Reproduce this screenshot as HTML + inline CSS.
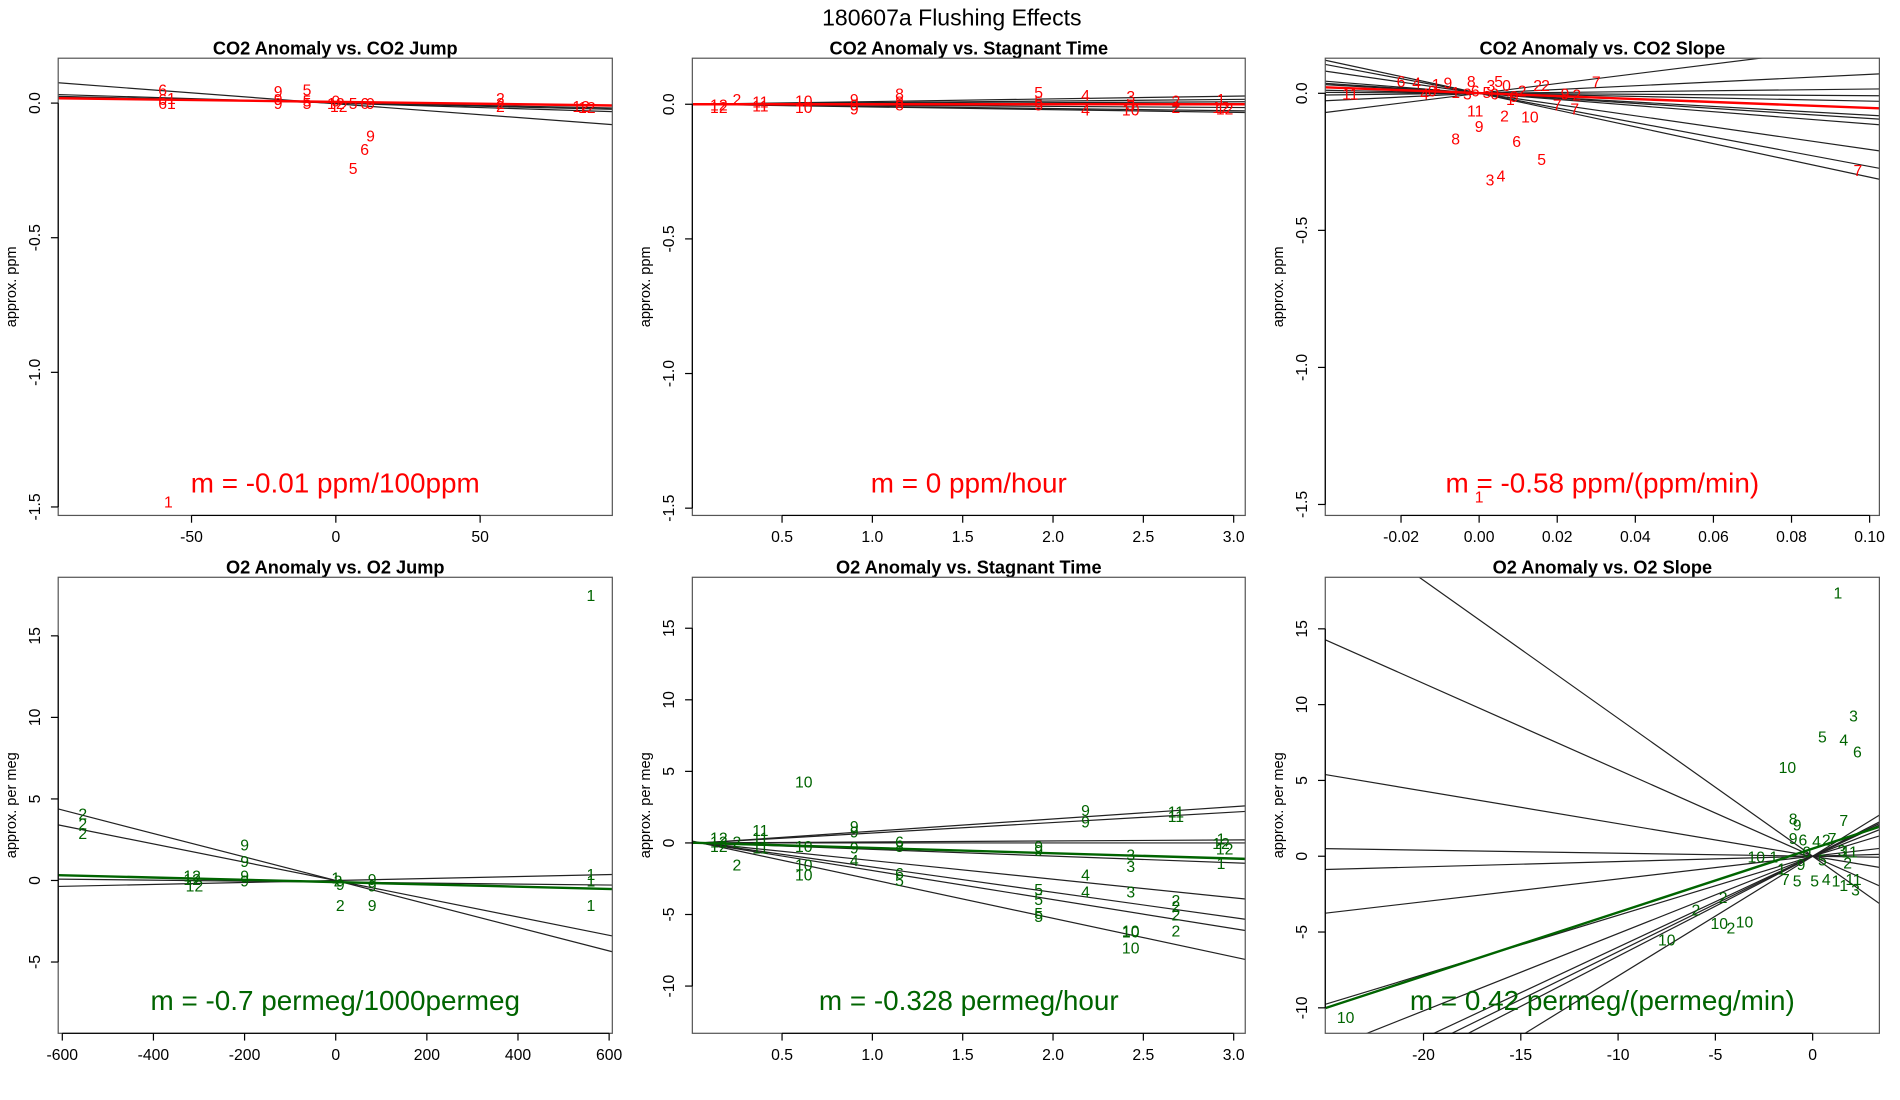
<!DOCTYPE html>
<html><head><meta charset="utf-8">
<style>
html,body{margin:0;padding:0;background:#fff;overflow:hidden;width:1900px;height:1100px;}
svg{display:block;font-family:"Liberation Sans",sans-serif;}
</style></head>
<body>
<svg id="fig" width="1900" height="1100" viewBox="0 0 1567 907" preserveAspectRatio="none" xmlns="http://www.w3.org/2000/svg">
<rect x="0" y="0" width="1567" height="907" fill="#fff"/>
<text x="785" y="21" text-anchor="middle" font-size="19">180607a   Flushing Effects</text>
</svg>
<script>
// ---------- data ----------
// Panel 1: CO2 anomaly vs CO2 jump
const p1Labels = ["6","6","6","1","1","9","9","9","5","5","5","9","12","12","5","6","9","2","2","2","12","12","9","6","5","1"];
const p1X = [-60,-60,-60,-57,-57,-20,-20,-20,-10,-10,-10,0,0,1,6,10,12,57,57,57,85,87,12,10,6,-58];
const p1Y = [0.05,0.015,0.0,0.02,0.0,0.045,0.015,0.0,0.05,0.01,0.0,0.01,0.0,-0.01,0.0,0.0,0.0,0.02,0.0,-0.01,-0.01,-0.015,-0.12,-0.17,-0.24,-1.48];
const p1Slopes = [-0.00081,-0.00033,-0.00021,-0.00025];
const p1Ints = [-0.0025,0.0,0.002,0.001];
const p1FitSlope = -0.00014, p1FitInt = 0.0045;
// Panel 2: CO2 anomaly vs stagnant time
const p2Labels = ["12","12","2","11","11","10","10","9","9","9","8","8","8","5","5","5","4","4","3","3","10","2","2","1","12","12"];
const p2X = [0.15,0.15,0.25,0.38,0.38,0.62,0.62,0.9,0.9,0.9,1.15,1.15,1.15,1.92,1.92,1.92,2.18,2.18,2.43,2.43,2.43,2.68,2.68,2.93,2.93,2.95];
const p2Y = [0.0,-0.01,0.02,0.01,-0.005,0.015,-0.01,0.02,0.0,-0.015,0.04,0.01,0.0,0.045,0.01,0.0,0.035,-0.02,0.03,0.0,-0.02,0.015,-0.01,0.02,-0.01,-0.015];
const p2Slopes = [0.01,0.006,0.003,-0.004,-0.008,-0.01];
const p2Ints = [0,0,0,0,0,0];
const p2FitSlope = 0.0, p2FitInt = 0.0;
// Panel 3: CO2 anomaly vs CO2 slope
const p3Labels = ["11","6","4","1","9","8","5","3","0","2","2","7","9","2","7","7","11","2","10","9","8","6","5","3","4","7","1","4","0","1","3","6","5","9","2","0","1"];
const p3X = [-0.033,-0.02,-0.016,-0.011,-0.008,-0.002,0.005,0.003,0.007,0.015,0.017,0.030,0.022,0.025,0.020,0.0245,-0.001,0.0065,0.013,0.0,-0.006,0.0096,0.016,0.0028,0.0056,0.097,0.0,-0.014,-0.012,-0.006,-0.003,-0.001,0.002,0.009,0.011,0.004,0.008];
const p3Y = [0.0,0.045,0.04,0.035,0.04,0.045,0.045,0.03,0.03,0.03,0.03,0.044,0.0,-0.005,-0.04,-0.055,-0.062,-0.08,-0.084,-0.12,-0.164,-0.173,-0.24,-0.314,-0.3,-0.28,-1.47,0.0,0.01,0.005,0.0,0.01,0.005,-0.01,0.01,0.0,-0.02];
const p3Slopes = [1.78,0.69,0.155,-0.086,-0.285,-0.8,-0.92,-1.12,-2.05,-2.67,-3.06];
const p3Ints = [0,0,0,0,0,0,0,0,0,0,0];
const p3FitSlope = -0.54, p3FitInt = 0.0007;
// Panel 4: O2 anomaly vs O2 jump
const p4Labels = ["2","2","2","9","9","9","9","12","12","12","1","2","9","9","9","2","9","1","1","1","1"];
const p4X = [-555,-555,-555,-200,-200,-200,-200,-315,-315,-310,0,5,10,80,80,10,80,560,560,560,560];
const p4Y = [4.1,3.5,2.9,2.2,1.2,0.3,0.0,0.3,0.1,-0.3,0.2,0.0,-0.2,0.1,-0.3,-1.5,-1.5,17.5,0.4,0.0,-1.5];
const p4Slopes = [-0.0072,-0.0056,0.0006,-0.0003];
const p4Ints = [0,0,0,-0.1];
const p4FitSlope = -0.0007, p4FitInt = -0.1;
// Panel 5: O2 anomaly vs stagnant time
const p5Labels = ["12","12","12","2","2","11","11","11","10","10","10","10","9","9","9","4","6","5","6","8","9","9","5","5","5","5","9","9","4","4","3","3","3","10","10","10","11","11","2","2","2","2","1","12","12","1"];
const p5X = [0.15,0.15,0.15,0.25,0.25,0.38,0.38,0.38,0.62,0.62,0.62,0.62,0.9,0.9,0.9,0.9,1.15,1.15,1.15,1.15,1.92,1.92,1.92,1.92,1.92,1.92,2.18,2.18,2.18,2.18,2.43,2.43,2.43,2.43,2.43,2.43,2.68,2.68,2.68,2.68,2.68,2.68,2.93,2.93,2.95,2.93];
const p5Y = [0.4,0.1,-0.2,-1.5,0.1,0.9,0.4,-0.3,4.3,-1.5,-2.2,-0.2,1.2,0.8,-0.3,-1.2,-2.1,-2.6,0.1,-0.2,-0.2,-0.5,-3.2,-3.9,-4.9,-5.1,2.3,1.5,-2.2,-3.4,-0.8,-1.6,-3.4,-6.1,-6.2,-7.3,2.2,1.9,-4.0,-4.4,-5.0,-6.1,0.3,0.0,-0.4,-1.4];
const p5Slopes = [0.86,0.73,0.07,0.0,-0.47,-1.3,-1.77,-2.03,-2.7];
const p5Ints = [-0.043,-0.036,0,0,0.02,0.065,0.09,0.1,0.135];
const p5FitSlope = -0.37, p5FitInt = 0.02;
// Panel 6: O2 anomaly vs O2 slope
const p6Labels = ["1","3","5","4","6","10","7","8","9","9","6","4","2","7","3","10","1","0","5","9","7","5","5","4","1","1","11","3","2","2","10","10","2","10","10","11","1","2"];
const p6X = [1.3,2.1,0.5,1.6,2.3,-1.3,1.6,-1.0,-0.8,-1.0,-0.5,0.2,0.7,1.0,1.5,-2.9,-2.0,-0.3,0.5,-0.6,-1.4,-0.8,0.1,0.7,1.2,1.6,2.1,2.2,-6.0,-4.6,-4.8,-3.5,-4.2,-7.5,-24.0,1.9,-1.6,1.8];
const p6Y = [17.4,9.3,7.9,7.7,6.9,5.9,2.4,2.5,2.1,1.2,1.1,1.0,1.1,1.2,0.4,0.0,0.0,0.3,-0.2,-0.5,-1.5,-1.6,-1.6,-1.5,-1.6,-1.9,-1.5,-2.2,-3.5,-2.7,-4.4,-4.3,-4.7,-5.5,-10.6,0.3,-0.8,-0.4];
const p6Slopes = [-0.91,-0.57,-0.215,-0.02,0.035,0.15,0.39,0.51,0.6,0.63,0.66,0.79];
const p6Ints = [0,0,0,0,0,0,0,0,0,0,0,0];
const p6FitSlope = 0.42, p6FitInt = 0.5;

// tick labels
const ticksP1X = [-50,0,50], ticksP1XLab = ["-50","0","50"];
const ticksCO2Y = [0,-0.5,-1,-1.5], ticksCO2YLab = ["0.0","-0.5","-1.0","-1.5"];
const ticksTimeX = [0.5,1,1.5,2,2.5,3], ticksTimeXLab = ["0.5","1.0","1.5","2.0","2.5","3.0"];
const ticksP3X = [-0.02,0,0.02,0.04,0.06,0.08,0.1], ticksP3XLab = ["-0.02","0.00","0.02","0.04","0.06","0.08","0.10"];
const ticksP4X = [-600,-400,-200,0,200,400,600], ticksP4XLab = ["-600","-400","-200","0","200","400","600"];
const ticksP4Y = [15,10,5,0,-5], ticksP4YLab = ["15","10","5","0","-5"];
const ticksP5Y = [15,10,5,0,-5,-10], ticksP5YLab = ["15","10","5","0","-5","-10"];
const ticksP6X = [-20,-15,-10,-5,0], ticksP6XLab = ["-20","-15","-10","-5","0"];
const ticksP6Y = [15,10,5,0,-5,-10], ticksP6YLab = ["15","10","5","0","-5","-10"];

// ---------- rendering ----------
const NS = "http://www.w3.org/2000/svg";
const svg = document.getElementById('fig');
function mk(tag, attrs, parent){ const e=document.createElementNS(NS,tag); for(const k in attrs) e.setAttribute(k,attrs[k]); (parent||svg).appendChild(e); return e; }

const panels = [
 {key:"co2-jump",title:"CO2 Anomaly vs. CO2 Jump",L:48,T:48,W:457,H:377,xlim:[-96.2,95.8],ylim:[0.1667,-1.5315],xt:ticksP1X,xtl:ticksP1XLab,yt:ticksCO2Y,ytl:ticksCO2YLab,ylab:"approx. ppm",col:"#ff0000",lab:p1Labels,xs:p1X,ys:p1Y,sl:p1Slopes,ic:p1Ints,fs:p1FitSlope,fi:p1FitInt,note:"m = -0.01 ppm/100ppm"},
 {key:"co2-time",title:"CO2 Anomaly vs. Stagnant Time",L:571,T:48,W:456,H:377,xlim:[0.0034,3.064],ylim:[0.171,-1.527],xt:ticksTimeX,xtl:ticksTimeXLab,yt:ticksCO2Y,ytl:ticksCO2YLab,ylab:"approx. ppm",col:"#ff0000",lab:p2Labels,xs:p2X,ys:p2Y,sl:p2Slopes,ic:p2Ints,fs:p2FitSlope,fi:p2FitInt,note:"m = 0 ppm/hour"},
 {key:"co2-slope",title:"CO2 Anomaly vs. CO2 Slope",L:1093,T:48,W:457,H:377,xlim:[-0.0394,0.1025],ylim:[0.128,-1.54],xt:ticksP3X,xtl:ticksP3XLab,yt:ticksCO2Y,ytl:ticksCO2YLab,ylab:"approx. ppm",col:"#ff0000",lab:p3Labels,xs:p3X,ys:p3Y,sl:p3Slopes,ic:p3Ints,fs:p3FitSlope,fi:p3FitInt,note:"m = -0.58 ppm/(ppm/min)"},
 {key:"o2-jump",title:"O2 Anomaly vs. O2 Jump",L:48,T:476,W:457,H:376,xlim:[-609,607],ylim:[18.59,-9.37],xt:ticksP4X,xtl:ticksP4XLab,yt:ticksP4Y,ytl:ticksP4YLab,ylab:"approx. per meg",col:"#006400",lab:p4Labels,xs:p4X,ys:p4Y,sl:p4Slopes,ic:p4Ints,fs:p4FitSlope,fi:p4FitInt,note:"m = -0.7 permeg/1000permeg"},
 {key:"o2-time",title:"O2 Anomaly vs. Stagnant Time",L:571,T:476,W:456,H:376,xlim:[0.0034,3.064],ylim:[18.56,-13.3],xt:ticksTimeX,xtl:ticksTimeXLab,yt:ticksP5Y,ytl:ticksP5YLab,ylab:"approx. per meg",col:"#006400",lab:p5Labels,xs:p5X,ys:p5Y,sl:p5Slopes,ic:p5Ints,fs:p5FitSlope,fi:p5FitInt,note:"m = -0.328 permeg/hour"},
 {key:"o2-slope",title:"O2 Anomaly vs. O2 Slope",L:1093,T:476,W:457,H:376,xlim:[-25.05,3.43],ylim:[18.4,-11.68],xt:ticksP6X,xtl:ticksP6XLab,yt:ticksP6Y,ytl:ticksP6YLab,ylab:"approx. per meg",col:"#006400",lab:p6Labels,xs:p6X,ys:p6Y,sl:p6Slopes,ic:p6Ints,fs:p6FitSlope,fi:p6FitInt,note:"m = 0.42 permeg/(permeg/min)"}
];

panels.forEach((p,pi)=>{
  const sx = v => p.L + (v-p.xlim[0])/(p.xlim[1]-p.xlim[0])*p.W;
  const sy = v => p.T + (v-p.ylim[0])/(p.ylim[1]-p.ylim[0])*p.H;
  const g = mk('g',{});
  
  
  const cp = mk('clipPath',{id:'clip'+pi},g);
  mk('rect',{x:p.L,y:p.T,width:p.W,height:p.H},cp);
  const t = mk('text',{x:p.L+p.W/2,y:p.T-3,'text-anchor':'middle','font-size':15,'font-weight':'bold'},g);
  t.textContent = p.title;
  
  
  const lg = mk('g',{'clip-path':'url(#clip'+pi+')'},g);
  
  
  p.sl.forEach((s,i)=>{
    const x0=p.xlim[0], x1=p.xlim[1];
    const ln = mk('line',{x1:sx(x0),y1:sy(p.ic[i]+s*x0),x2:sx(x1),y2:sy(p.ic[i]+s*x1),stroke:'#222','stroke-width':1},lg);
    
    
  });
  p.lab.forEach((l,i)=>{
    const tx = mk('text',{x:sx(p.xs[i]),y:sy(p.ys[i])+5,'text-anchor':'middle','font-size':13,fill:p.col},lg);
    tx.textContent = l;
    
    
  });
  const fl = mk('line',{x1:sx(p.xlim[0]),y1:sy(p.fi+p.fs*p.xlim[0]),x2:sx(p.xlim[1]),y2:sy(p.fi+p.fs*p.xlim[1]),stroke:p.col,'stroke-width':2},lg);
  
  
  const box = mk('rect',{x:p.L,y:p.T,width:p.W,height:p.H,fill:'none',stroke:'#555','stroke-width':1},g);
  
  
  const xa = mk('g',{},g);
  
  
  const xb = p.T+p.H;
  mk('line',{x1:sx(p.xt[0]),y1:xb,x2:sx(p.xt[p.xt.length-1]),y2:xb,stroke:'#000'},xa);
  p.xt.forEach((v,i)=>{
    mk('line',{x1:sx(v),y1:xb,x2:sx(v),y2:xb+6,stroke:'#000'},xa);
    const tl = mk('text',{x:sx(v),y:xb+22,'text-anchor':'middle','font-size':13},xa);
    tl.textContent = p.xtl[i];
    
    
  });
  const ya = mk('g',{},g);
  
  
  mk('line',{x1:p.L,y1:sy(p.yt[0]),x2:p.L,y2:sy(p.yt[p.yt.length-1]),stroke:'#000'},ya);
  p.yt.forEach((v,i)=>{
    mk('line',{x1:p.L-6,y1:sy(v),x2:p.L,y2:sy(v),stroke:'#000'},ya);
    const yy = sy(v), xx = p.L-15;
    const tl = mk('text',{x:xx,y:yy,'text-anchor':'middle','font-size':13,transform:'rotate(-90 '+xx+' '+yy+')'},ya);
    tl.textContent = p.ytl[i];
    
    
  });
  const cy = p.T+p.H/2, cx = p.L-35;
  const yl = mk('text',{x:cx,y:cy,'text-anchor':'middle','font-size':12,transform:'rotate(-90 '+cx+' '+cy+')'},g);
  yl.textContent = p.ylab;
  
  
  const an = mk('text',{x:p.L+p.W/2,y:p.T+p.H-19,'text-anchor':'middle','font-size':23,fill:p.col},g);
  an.textContent = p.note;
  
  
});
</script>
</body></html>
